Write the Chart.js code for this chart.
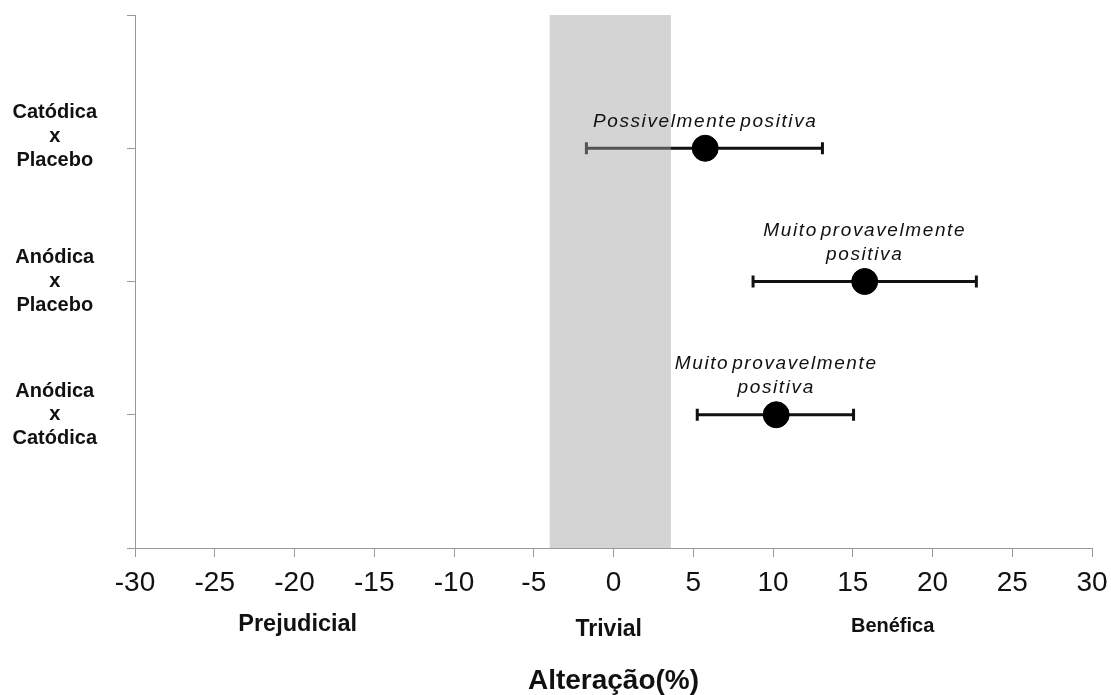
<!DOCTYPE html>
<html>
<head>
<meta charset="utf-8">
<script src="https://cdn.jsdelivr.net/npm/chart.js@4/dist/chart.umd.min.js"></script>
<style>
  html, body { margin: 0; padding: 0; background: #fff; }
  canvas { display: block; }
</style>
</head>
<body>
<canvas id="c" width="1111" height="695"></canvas>
<script>
// Comparisons (rows from top to bottom) and their effect estimates with confidence limits (%)
const comparisons = [["Catódica", "x", "Placebo"], ["Anódica", "x", "Placebo"], ["Anódica", "x", "Catódica"]];
const rowPositions = [3, 2, 1];
const effect = [5.75, 15.75, 10.2];
const ciLow = [-1.7, 8.75, 5.25];
const ciHigh = [13.1, 22.75, 15.05];
const inference = [["Possivelmente positiva"], ["Muito provavelmente", "positiva"], ["Muito provavelmente", "positiva"]];

// Smallest worthwhile change zone
const trivialZone = [-4, 3.6];

// Horizontal axis
const xMin = -30, xMax = 30, xStep = 5;
const zoneLabels = ["Prejudicial", "Trivial", "Benéfica"];
const zoneCenters = [-19.8, -0.3, 17.5];
const axisTitle = "Alteração(%)";

const FONT = '"Liberation Sans", Arial, Helvetica, sans-serif';
const zoneFonts = [
  { family: FONT, size: 23.5, weight: 'bold', lineHeight: 1.106 },
  { family: FONT, size: 23, weight: 'bold', lineHeight: 1.565 },
  { family: FONT, size: 20, weight: 'bold', lineHeight: 1.47 }
];

// Error bars: one line per comparison with vertical caps at both limits
const errorBarSets = rowPositions.map((row, i) => ({
  data: [{ x: ciLow[i], y: row }, { x: ciHigh[i], y: row }],
  showLine: true,
  borderColor: '#111',
  borderWidth: 3,
  borderCapStyle: 'butt',
  pointStyle: 'line',
  pointRotation: 90,
  pointRadius: 6,
  pointHoverRadius: 6,
  pointBorderWidth: 3,
  pointBorderColor: '#111',
  xAxisID: 'x',
  yAxisID: 'y',
  order: 2
}));

// Trivial zone drawn as a translucent filled rectangle over the error bars
const zoneSet = {
  data: [
    { x: trivialZone[0], y: 0 }, { x: trivialZone[0], y: 4 },
    { x: trivialZone[1], y: 4 }, { x: trivialZone[1], y: 0 }
  ],
  showLine: true,
  fill: 'shape',
  backgroundColor: 'rgba(161,161,161,0.46)',
  borderColor: 'rgba(0,0,0,0)',
  borderWidth: 0,
  pointRadius: 0,
  pointHoverRadius: 0,
  xAxisID: 'x',
  yAxisID: 'y',
  order: 1
};

const pointSet = {
  data: rowPositions.map((row, i) => ({ x: effect[i], y: row })),
  backgroundColor: '#000',
  borderColor: '#000',
  borderWidth: 1,
  pointRadius: 13,
  pointHoverRadius: 13,
  xAxisID: 'x',
  yAxisID: 'y',
  order: 0
};

// Qualitative inference written above each estimate
const inferenceLabels = {
  id: 'inferenceLabels',
  afterDatasetsDraw(chart) {
    const meta = chart.getDatasetMeta(0);
    const ctx = chart.ctx;
    ctx.save();
    ctx.font = 'italic 19px ' + FONT;
    if ('letterSpacing' in ctx) ctx.letterSpacing = '1.6px';
    if ('wordSpacing' in ctx) ctx.wordSpacing = '-4px';
    ctx.fillStyle = '#111';
    ctx.textAlign = 'center';
    ctx.textBaseline = 'middle';
    meta.data.forEach((pt, i) => {
      const lines = inference[i];
      lines.forEach((t, j) => {
        const y = pt.y - 27 - (lines.length - 1 - j) * 24;
        ctx.fillText(t, pt.x, y);
      });
    });
    ctx.restore();
  }
};

new Chart(document.getElementById('c'), {
  type: 'scatter',
  data: { datasets: [pointSet, zoneSet, ...errorBarSets] },
  options: {
    responsive: false,
    devicePixelRatio: 1,
    animation: false,
    events: [],
    layout: { padding: { top: 15, right: 19, left: 0, bottom: 0 } },
    plugins: { legend: { display: false }, tooltip: { enabled: false } },
    scales: {
      x: {
        type: 'linear',
        position: 'bottom',
        weight: 0,
        min: xMin,
        max: xMax,
        border: { color: '#999', width: 1 },
        grid: { drawOnChartArea: false, drawTicks: true, tickLength: 9, color: '#999' },
        ticks: {
          stepSize: xStep,
          autoSkip: false,
          maxRotation: 0,
          padding: 9,
          color: '#111',
          font: { family: FONT, size: 28, lineHeight: 1.2 },
          callback: (v) => String(v)
        },
        afterFit(s) { s.height = 62; s.paddingLeft = 0; s.paddingRight = 0; }
      },
      xc: {
        type: 'linear',
        position: 'bottom',
        weight: 1,
        min: xMin,
        max: xMax,
        border: { display: false },
        grid: { display: false, drawTicks: false },
        afterBuildTicks(s) { s.ticks = zoneCenters.map(v => ({ value: v })); },
        ticks: {
          autoSkip: false,
          maxRotation: 0,
          padding: 2,
          color: '#111',
          font: (ctx) => zoneFonts[ctx.index] || zoneFonts[0],
          callback: (v, i) => zoneLabels[i]
        },
        title: {
          display: true,
          text: axisTitle,
          color: '#111',
          font: { family: FONT, size: 28, weight: 'bold', lineHeight: 1 },
          padding: { top: 0, bottom: 0 }
        },
        afterFit(s) { s.height = 85; s.paddingLeft = 0; s.paddingRight = 0; }
      },
      y: {
        type: 'linear',
        position: 'left',
        min: 0,
        max: 4,
        border: { color: '#999', width: 1 },
        grid: { drawOnChartArea: false, drawTicks: true, tickLength: 8, color: '#999' },
        ticks: {
          stepSize: 1,
          autoSkip: false,
          crossAlign: 'center',
          padding: 30,
          color: '#111',
          font: { family: FONT, size: 20, weight: 'bold', lineHeight: 1.18 },
          callback: (v) => {
            const i = rowPositions.indexOf(v);
            if (i < 0) return '';
            const lines = comparisons[i].slice();
            // the top row label sits a little above its tick
            if (i === 0) lines.push('');
            return lines;
          }
        },
        afterFit(s) { s.width = 135; s.paddingTop = 0; s.paddingBottom = 0; }
      }
    }
  },
  plugins: [inferenceLabels]
});
</script>
</body>
</html>
